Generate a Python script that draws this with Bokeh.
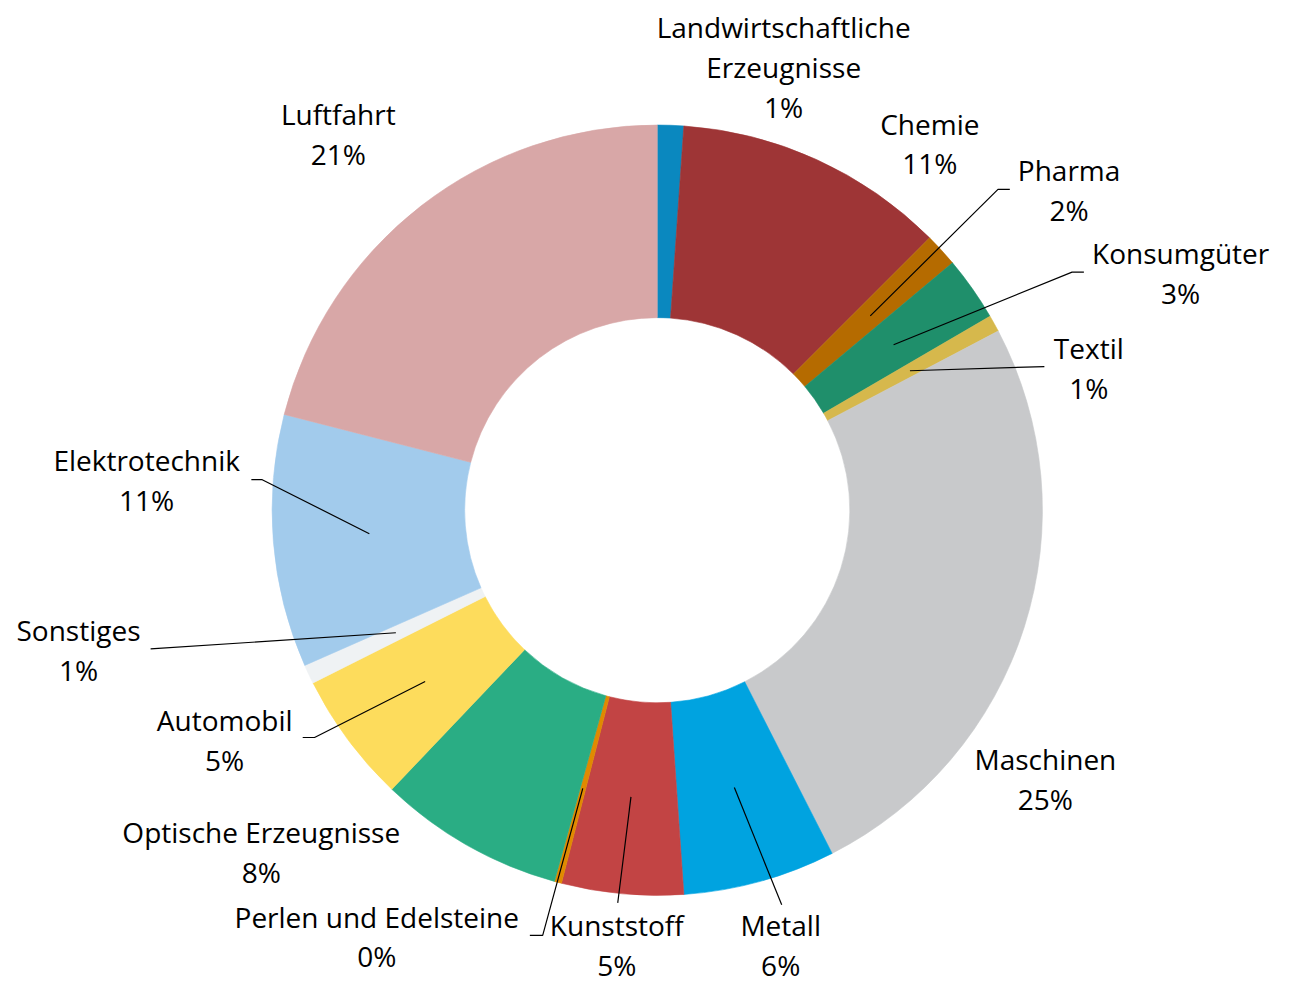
import math
from bokeh.plotting import figure
from bokeh.models import Range1d, ColumnDataSource
from bokeh.core.properties import value
from bokeh.embed import file_html
from bokeh.resources import INLINE

# ---------------- data ----------------
categories = ["Landwirtschaftliche Erzeugnisse", "Chemie", "Pharma", "Konsumgüter",
              "Textil", "Maschinen", "Metall", "Kunststoff", "Perlen und Edelsteine",
              "Optische Erzeugnisse", "Automobil", "Sonstiges", "Elektrotechnik", "Luftfahrt"]
shares = [1.1, 11.4, 1.4, 2.7, 0.7, 25.2, 6.4, 5.1, 0.3, 7.8, 5.5, 0.8, 10.6, 21.0]
pct_labels = ["1%", "11%", "2%", "3%", "1%", "25%", "6%", "5%", "0%", "8%", "5%", "1%", "11%", "21%"]

# ---------------- style / layout ----------------
colors = ["#0a88bf", "#9e3536", "#b56b00", "#1f8f6b", "#d6b84c", "#c8c9cb", "#00a3e0",
          "#c24444", "#e08a00", "#2aad84", "#fddc5c", "#eff2f4", "#a2cbec", "#d8a7a7"]
wrap = {"Landwirtschaftliche Erzeugnisse": ["Landwirtschaftliche", "Erzeugnisse"]}

W, H = 1290, 1000          # reference canvas units
CX, CY = 665, 518
R_OUT, R_IN = 390, 195
LINE_H = 40.5
FONT = "Open Sans"
FONT_SIZE = "28px"

# label anchor (center x, first line center y) in reference pixels
label_pos = [(793, 27), (941, 125), (1082, 172), (1195, 257), (1102, 353), (1058, 771),
             (790, 940), (624, 940), (381, 931), (264, 845), (227, 731), (79, 640),
             (148, 467), (342, 115)]
# leader line waypoints after the ring start point; None = no leader
leaders = [None, None, [(1010, 192), (1022, 192)], [(1085, 276), (1097, 276)],
           [(1057, 372)], None, [(791, 919)], [(625, 917)], [(549, 950), (536, 950)],
           None, [(318, 749), (306, 749)], [(152, 659)], [(265, 487), (254, 487)], None]


def Y(py):
    return H - py


p = figure(width=W - 16, height=H - 16, x_range=Range1d(0, W), y_range=Range1d(0, H),
           output_backend="svg", toolbar_location=None, min_border=0,
           x_axis_type=None, y_axis_type=None)
p.grid.visible = False
p.outline_line_color = None
p.background_fill_color = "white"
p.border_fill_color = "white"

total = sum(shares)
starts, ends, mids = [], [], []
acc = 0.0
for v in shares:
    t0 = acc / total * 2 * math.pi
    acc += v
    t1 = acc / total * 2 * math.pi
    starts.append(math.pi / 2 - t1)
    ends.append(math.pi / 2 - t0)
    mids.append((t0 + t1) / 2)

src = ColumnDataSource(dict(x=[CX] * len(shares), y=[Y(CY)] * len(shares),
                            start=starts, end=ends, color=colors, cat=categories))
p.annular_wedge(x="x", y="y", inner_radius=R_IN, outer_radius=R_OUT,
                start_angle="start", end_angle="end", direction="anticlock",
                fill_color="color", line_color="color", line_width=0.6, source=src)

# leader lines
r_mid = (R_IN + R_OUT) / 2
xs, ys = [], []
for i, pts in enumerate(leaders):
    if pts is None:
        continue
    th = mids[i]
    lx = [CX + r_mid * math.sin(th)]
    ly = [Y(CY) + r_mid * math.cos(th)]
    for (px, py) in pts:
        lx.append(px)
        ly.append(Y(py))
    xs.append(lx)
    ys.append(ly)
p.multi_line(xs, ys, line_color="black", line_width=1.2)

# labels
tx, ty, tt = [], [], []
for i, cat in enumerate(categories):
    lines = wrap.get(cat, [cat]) + [pct_labels[i]]
    cx, y0 = label_pos[i]
    for j, s in enumerate(lines):
        tx.append(cx)
        ty.append(Y(y0 + j * LINE_H))
        tt.append(s)
p.text(x=tx, y=ty, text=tt, text_align="center", text_baseline="middle",
       text_font=value(FONT), text_font_size=FONT_SIZE, text_color="black")

open("out.html", "w").write(file_html(p, INLINE))
